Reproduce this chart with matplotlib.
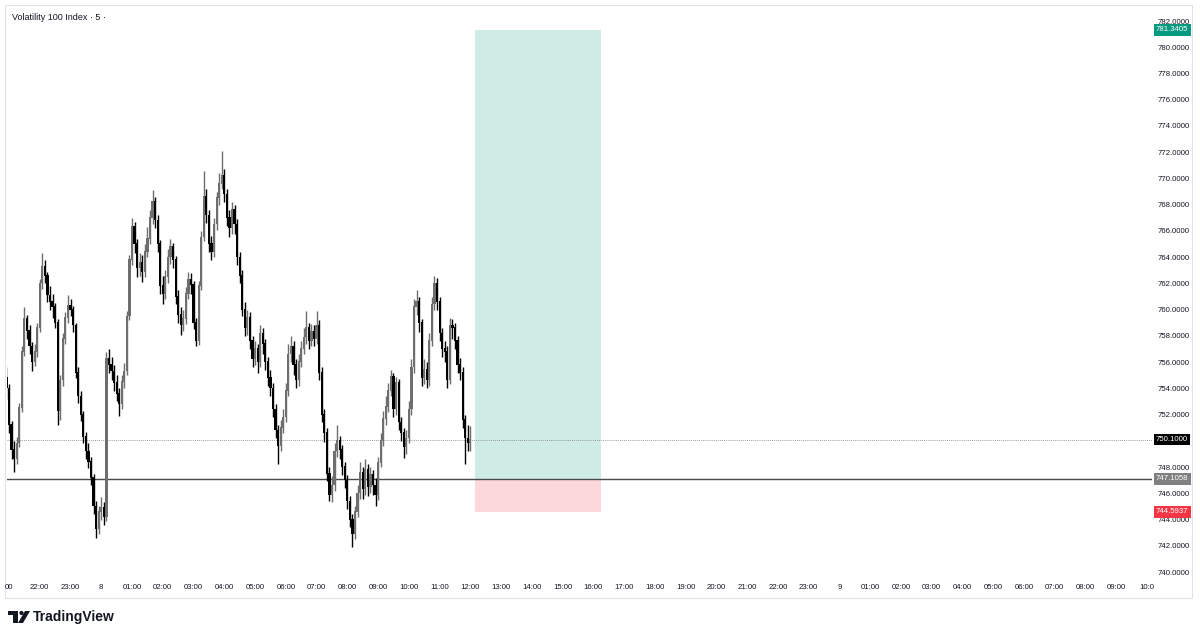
'''plot.py

Volatility 100 Index, 5 minute candles, with a long position tool.
'''
import numpy as np
import matplotlib
matplotlib.use("Agg")
import matplotlib.pyplot as plt
from matplotlib.patches import Rectangle, Circle, Polygon
from matplotlib.transforms import blended_transform_factory

# Data: 5 minute candles from 20:55 (day 7) to 12:00 (day 8), x in hours from day 7 00:00
FIRST_TIME = 20 + 55 / 60
FIRST_OPEN = 754.8
closes = [
    754.0, 751.2, 749.3, 748.6, 749.8, 752.5, 756.8, 759.3, 758.4, 757.2,
    756.0, 756.8, 758.6, 762.0, 763.3, 762.6, 761.1, 760.6, 760.2, 759.0,
    752.3, 754.6, 757.8, 759.4, 760.3, 760.0, 758.8, 755.2, 753.4, 752.0,
    750.3, 749.2, 748.4, 747.2, 745.0, 743.3, 744.6, 744.9, 744.2, 756.3,
    755.8, 755.3, 754.4, 753.6, 752.8, 754.5, 755.3, 759.5, 763.8, 766.3,
    765.0, 763.2, 763.6, 762.9, 764.4, 765.4, 767.0, 768.2, 766.8, 765.0,
    761.8, 761.2, 762.5, 764.0, 764.8, 763.8, 761.0, 759.6, 758.8, 759.3,
    761.2, 762.3, 761.9, 759.0, 757.6, 761.8, 765.5, 768.6, 767.2, 765.0,
    764.4, 766.5, 768.5, 769.6, 770.2, 768.8, 767.0, 766.2, 767.6, 766.5,
    764.0, 762.6, 760.0, 758.6, 759.4, 757.6, 756.2, 757.0, 756.0, 758.2,
    757.4, 756.0, 754.8, 754.0, 752.4, 750.8, 749.6, 751.0, 751.8, 753.8,
    756.6, 757.2, 755.8, 754.6, 756.0, 757.0, 757.9, 758.6, 757.6, 758.3,
    757.8, 758.8, 755.2, 752.0, 750.6, 747.5, 745.9, 746.6, 749.2, 750.0,
    749.3, 748.0, 747.0, 745.4, 744.0, 742.9, 744.6, 746.0, 747.6, 746.3,
    747.8, 746.5, 747.4, 746.6, 745.9, 748.3, 750.0, 751.7, 752.6, 753.8,
    754.9, 752.4, 754.4, 751.4, 750.6, 749.5, 750.2, 752.4, 755.6, 760.2,
    760.6, 759.0, 754.8, 755.4, 754.6, 757.6, 760.4, 762.0, 760.6, 758.2,
    757.0, 756.8, 754.6, 758.8, 758.6, 757.6, 755.8, 755.2, 751.6, 750.2,
    749.8, 750.1,
]
highs = [
    755.6, 754.3, 751.5, 750.0, 750.3, 752.9, 757.2, 760.2, 759.6, 758.8,
    757.5, 757.4, 759.0, 762.3, 764.3, 763.8, 762.9, 761.8, 761.2, 760.5,
    759.3, 755.0, 758.2, 759.8, 761.1, 760.8, 760.3, 759.0, 755.6, 753.8,
    752.3, 750.7, 749.8, 748.8, 747.5, 745.4, 745.0, 745.7, 745.3, 756.8,
    757.0, 756.4, 755.8, 755.0, 754.0, 755.0, 755.9, 759.9, 764.2, 767.0,
    766.7, 765.4, 764.3, 764.2, 765.0, 766.3, 767.6, 769.1, 768.6, 767.2,
    765.3, 762.6, 763.0, 764.6, 765.4, 765.1, 764.1, 761.5, 760.2, 760.0,
    761.7, 762.9, 762.8, 762.2, 759.4, 762.2, 766.0, 770.6, 769.2, 767.6,
    765.6, 767.0, 769.0, 770.4, 772.1, 770.7, 769.2, 767.6, 768.2, 768.0,
    766.9, 764.4, 763.0, 760.6, 760.0, 759.8, 758.0, 757.6, 757.4, 758.8,
    758.6, 757.8, 756.4, 755.4, 754.4, 752.8, 751.2, 751.6, 752.4, 754.4,
    757.4, 758.0, 757.6, 756.2, 756.6, 757.6, 758.6, 759.9, 759.0, 758.9,
    758.8, 759.9, 759.2, 755.6, 752.4, 751.0, 748.0, 747.3, 749.8, 751.2,
    750.4, 749.7, 748.4, 747.4, 745.8, 744.4, 745.0, 746.6, 748.4, 748.0,
    748.6, 748.2, 748.0, 747.8, 747.2, 748.8, 750.6, 752.3, 753.4, 754.4,
    755.4, 755.2, 754.9, 754.7, 751.8, 751.0, 750.8, 753.0, 756.2, 760.8,
    761.5, 761.0, 759.3, 756.2, 756.0, 758.2, 761.0, 762.6, 762.4, 761.0,
    758.6, 757.6, 757.2, 759.4, 759.3, 759.0, 758.0, 756.3, 755.6, 752.0,
    751.2, 751.1,
]
lows = [
    753.2, 750.6, 748.6, 747.6, 748.2, 749.5, 752.2, 756.5, 757.8, 756.6,
    755.3, 755.7, 756.4, 758.3, 761.6, 762.0, 760.6, 760.0, 759.4, 758.6,
    751.2, 751.6, 754.2, 757.4, 759.0, 759.5, 758.3, 754.8, 752.9, 751.5,
    749.8, 748.6, 747.9, 746.6, 744.4, 742.6, 742.9, 744.0, 743.6, 743.9,
    755.2, 754.6, 753.8, 753.0, 751.9, 752.4, 754.0, 755.0, 759.2, 763.4,
    764.3, 762.5, 762.6, 762.1, 762.5, 764.0, 765.0, 766.5, 766.2, 764.4,
    761.2, 760.4, 760.8, 762.0, 763.5, 763.2, 760.4, 759.0, 758.1, 758.4,
    758.9, 760.8, 761.2, 758.5, 757.2, 757.3, 761.5, 765.2, 766.6, 764.4,
    763.8, 764.0, 766.1, 768.0, 769.2, 768.2, 766.4, 765.5, 765.8, 765.8,
    763.4, 762.0, 759.5, 758.0, 758.1, 757.0, 755.6, 755.8, 755.2, 755.6,
    756.6, 755.4, 754.2, 753.4, 751.8, 750.2, 748.2, 749.2, 750.6, 751.4,
    753.4, 756.0, 755.0, 754.0, 754.2, 755.6, 756.6, 757.4, 757.0, 757.2,
    757.2, 757.4, 754.6, 751.4, 749.9, 746.9, 745.4, 745.3, 746.2, 748.8,
    748.6, 747.4, 746.4, 744.8, 743.4, 741.9, 742.5, 744.2, 745.6, 745.6,
    745.9, 745.8, 746.0, 745.9, 745.0, 745.5, 748.0, 749.6, 751.2, 752.2,
    753.4, 751.8, 752.0, 750.8, 750.0, 748.7, 749.0, 749.8, 752.0, 755.2,
    759.6, 758.3, 754.2, 754.3, 754.0, 754.2, 757.2, 760.0, 760.0, 757.6,
    756.4, 756.0, 754.0, 754.3, 757.8, 757.0, 755.2, 754.6, 751.0, 748.2,
    749.2, 749.2,
]

# Position tool (long): target, entry, stop, drawn from 12:09 to 16:15
TARGET = 781.3405
ENTRY = 747.1058
STOP = 744.5937
LAST_PRICE = 750.1000
POS_START = 36.15
POS_END = 40.25

# Axis ticks (750.0000 sits under the last price label, so it is not shown)
x_ticks = list(range(21, 59))
x_labels = (["00", "22:00", "23:00", "8"]
            + [f"{h:02d}:00" for h in range(1, 24)]
            + ["9"]
            + [f"{h:02d}:00" for h in range(1, 10)]
            + ["10:0"])
y_ticks = [v for v in range(740, 784, 2) if v != 750]

TEXT = "#131722"
UP = "#6e6e6e"
DOWN = "#000000"
FONT = ["Liberation Sans", "DejaVu Sans"]


def main() -> None:
    plt.rcParams["font.family"] = FONT
    fig = plt.figure(figsize=(12, 6.37), dpi=100)
    fig.patch.set_facecolor("white")

    ax = fig.add_axes([7 / 1200, 1 - 577 / 637, 1145 / 1200, 570 / 637])
    ax.set_xlim(20.935, 58.16)
    ax.set_ylim(739.62, 783.07)

    n = len(closes)
    t = FIRST_TIME + np.arange(n) / 12
    c = np.array(closes)
    o = np.concatenate([[FIRST_OPEN], c[:-1]])
    h = np.array(highs)
    lo = np.array(lows)
    up = c >= o
    colors = np.where(up, UP, DOWN)

    ax.vlines(t, lo, h, colors=colors, linewidth=1.0, zorder=3)
    ax.bar(t, np.abs(c - o) + 0.05, bottom=np.minimum(o, c), width=0.072,
           color=colors, linewidth=0, zorder=4)

    # Position tool boxes
    ax.add_patch(Rectangle((POS_START, ENTRY), POS_END - POS_START, TARGET - ENTRY,
                           facecolor="#cfebe5", edgecolor="none", zorder=1))
    ax.add_patch(Rectangle((POS_START, STOP), POS_END - POS_START, ENTRY - STOP,
                           facecolor="#fcd7db", edgecolor="none", zorder=1))

    ax.axhline(ENTRY, color="#4a4a4a", linewidth=1.0, zorder=2)
    ax.axhline(LAST_PRICE, color="#7a7a7a", linewidth=0.6, linestyle=(0, (1, 1.5)), zorder=2)

    for s in ax.spines.values():
        s.set_visible(False)
    ax.set_xticks(x_ticks)
    ax.set_xticklabels(x_labels)
    ax.yaxis.tick_right()
    ax.set_yticks(y_ticks)
    ax.set_yticklabels([f"{v:.4f}" for v in y_ticks])
    ax.tick_params(axis="both", length=0, labelsize=5.6, labelcolor=TEXT)
    ax.tick_params(axis="x", pad=5)
    ax.tick_params(axis="y", pad=4)

    # Coloured price labels on the price scale
    trans = blended_transform_factory(ax.transAxes, ax.transData)
    for price, bg in [(TARGET, "#089981"), (LAST_PRICE, "#000000"),
                      (ENTRY, "#808080"), (STOP, "#f23645")]:
        ax.text(1.0035, price, f"{price:.4f}", transform=trans, ha="left", va="center",
                fontsize=5.6, color="white", zorder=6, clip_on=False,
                bbox=dict(boxstyle="square,pad=0.3", facecolor=bg, edgecolor="none"))

    # Overlay for frame (pixel coordinates)
    ov = fig.add_axes([0, 0, 1, 1], zorder=-1)
    ov.set_xlim(0, 1200)
    ov.set_ylim(637, 0)
    ov.axis("off")
    ov.add_patch(Rectangle((5, 5), 1187, 593, facecolor="none",
                           edgecolor="#e0e3eb", linewidth=0.8))

    fig.text(12 / 1200, 1 - 17 / 637, "Volatility 100 Index · 5 ·",
             fontsize=6.5, color=TEXT, va="center", ha="left")

    # TradingView logo
    top = fig.add_axes([0, 0, 1, 1], zorder=5)
    top.set_xlim(0, 1200)
    top.set_ylim(637, 0)
    top.axis("off")
    top.add_patch(Rectangle((8, 611), 10, 4, facecolor=TEXT, edgecolor="none"))
    top.add_patch(Rectangle((13, 611), 5, 12, facecolor=TEXT, edgecolor="none"))
    top.add_patch(Circle((21.5, 613), 2.1, facecolor=TEXT, edgecolor="none"))
    top.add_patch(Polygon([(25, 611), (30, 611), (23, 623), (18, 623)],
                          closed=True, facecolor=TEXT, edgecolor="none"))
    top.text(33, 617, "TradingView", fontsize=10, fontweight="bold",
             color=TEXT, va="center", ha="left")

    fig.savefig("out.png", dpi=100, facecolor="white")
    plt.close(fig)


if __name__ == "__main__":
    main()
